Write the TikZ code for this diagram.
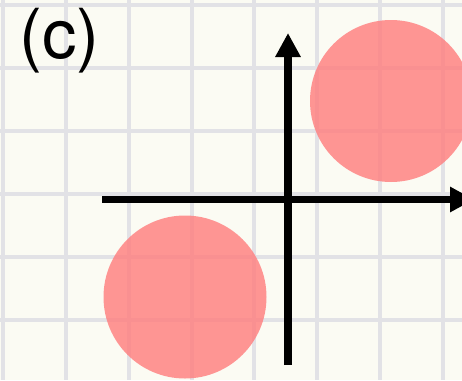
\documentclass[tikz,border=0pt]{standalone}
\usepackage{fontspec}
\setmainfont{TeX Gyre Heros}
\usetikzlibrary{arrows.meta}
\definecolor{bgcol}{HTML}{FBFBF3}
\definecolor{gridcol}{HTML}{E2E2E6}
\definecolor{blobcol}{HTML}{FF7F7F}
\tikzset{
  gridline/.style={draw=gridcol, line width=3.5pt},
  axisline/.style={draw=black, line width=7.5pt, -{Triangle[length=24pt,width=24pt]}},
  blob/.style={fill=blobcol, fill opacity=0.82}
}
\begin{document}
\begin{tikzpicture}[x=1pt,y=-1pt]
\fill[bgcol] (0,0) rectangle (462,380);
\useasboundingbox (0,0) rectangle (462,380);
\begin{scope}
\clip (0,0) rectangle (462,380);
\foreach \x in {3,66,129,192,254,317,380,443} \draw[gridline] (\x,0) -- (\x,380);
\foreach \y in {5,68,131,194,257,320} \draw[gridline] (0,\y) -- (462,\y);
\coordinate (xs) at (102,199.5);
\coordinate (xe) at (474,199.5);
\coordinate (ys) at (288,365);
\coordinate (ye) at (288,33);
\draw[axisline] (xs) -- (xe);
\draw[axisline] (ys) -- (ye);
\node[blob, circle, minimum size=162pt, inner sep=0pt] (c1) at (391,101) {};
\node[blob, circle, minimum size=163pt, inner sep=0pt] (c2) at (185,297) {};
\end{scope}
\node[anchor=base west, inner sep=0pt, font=\fontsize{69}{69}\selectfont] (lab) at (19,58) {(c)};
\end{tikzpicture}
\end{document}
